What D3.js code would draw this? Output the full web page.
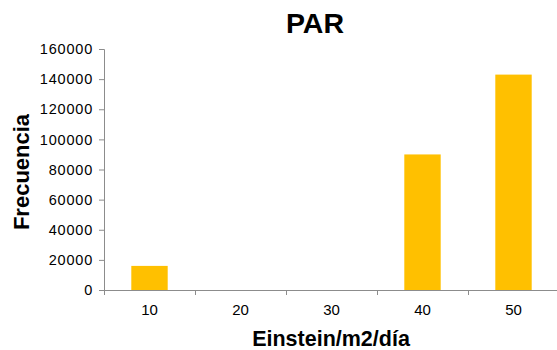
<!DOCTYPE html>
<html>
<head>
<meta charset="utf-8">
<script src="https://cdn.jsdelivr.net/npm/d3@7"></script>
<style>
  html, body { margin: 0; padding: 0; background: #fff; }
  svg { display: block; font-family: "Liberation Sans", Arial, sans-serif; }
</style>
</head>
<body>
<svg id="chart" width="557" height="350"></svg>
<script>
// PAR frequency distribution
const categories = ["10", "20", "30", "40", "50"];
const frequencies = [16000, 0, 0, 90000, 143000];
const yTicks = [0, 20000, 40000, 60000, 80000, 100000, 120000, 140000, 160000];

const svg = d3.select("#chart");
const chartWidth = 557;
const plotLeft = 104, plotTop = 49, plotBottom = 290;
const FONT = "'Liberation Sans', Arial, sans-serif";
const AXIS = "#8c8c8c";

const x = d3.scaleBand()
  .domain(categories)
  .range([plotLeft, plotLeft + 5 * 91])
  .paddingInner(0.6)
  .paddingOuter(0.3);

const y = d3.scaleLinear()
  .domain([0, 160000])
  .range([plotBottom, plotTop]);

// bars
svg.append("g")
  .selectAll("rect")
  .data(categories.map((c, i) => ({ c, v: frequencies[i] })))
  .join("rect")
  .attr("x", d => x(d.c))
  .attr("y", d => y(d.v))
  .attr("width", x.bandwidth())
  .attr("height", d => plotBottom - y(d.v))
  .attr("fill", "#FFC000");

// y axis
const yAxis = svg.append("g")
  .attr("transform", `translate(${plotLeft},0)`)
  .call(d3.axisLeft(y).tickValues(yTicks).tickFormat(d3.format("d")).tickSize(5).tickPadding(6));
yAxis.select(".domain").attr("stroke", AXIS);
yAxis.selectAll(".tick line").attr("stroke", AXIS);
yAxis.selectAll(".tick text")
  .attr("font-size", 14.5).attr("fill", "#000")
  .attr("letter-spacing", 0.8)
  .attr("font-family", FONT);

// x axis: baseline with ticks on category boundaries
const xAxisG = svg.append("g");
const step = x.step();
xAxisG.append("line")
  .attr("x1", plotLeft).attr("x2", chartWidth)
  .attr("y1", plotBottom + 0.5).attr("y2", plotBottom + 0.5)
  .attr("stroke", AXIS);
xAxisG.selectAll("line.tk")
  .data(d3.range(categories.length))
  .join("line")
  .attr("class", "tk")
  .attr("x1", i => plotLeft + i * step + 0.5)
  .attr("x2", i => plotLeft + i * step + 0.5)
  .attr("y1", plotBottom).attr("y2", plotBottom + 5)
  .attr("stroke", AXIS);
xAxisG.selectAll("text")
  .data(categories)
  .join("text")
  .attr("x", d => x(d) + x.bandwidth() / 2)
  .attr("y", 315)
  .attr("text-anchor", "middle")
  .attr("font-size", 15)
  .text(d => d);

// title
svg.append("text")
  .attr("x", 315).attr("y", 33)
  .attr("text-anchor", "middle")
  .attr("font-size", 28.5).attr("font-weight", "bold")
  .text("PAR");

// axis titles
svg.append("text")
  .attr("x", 331).attr("y", 346)
  .attr("text-anchor", "middle")
  .attr("font-size", 21.5).attr("font-weight", "bold")
  .text("Einstein/m2/día");

svg.append("text")
  .attr("transform", "translate(29,172) rotate(-90)")
  .attr("text-anchor", "middle")
  .attr("font-size", 22).attr("font-weight", "bold")
  .text("Frecuencia");
</script>
</body>
</html>
